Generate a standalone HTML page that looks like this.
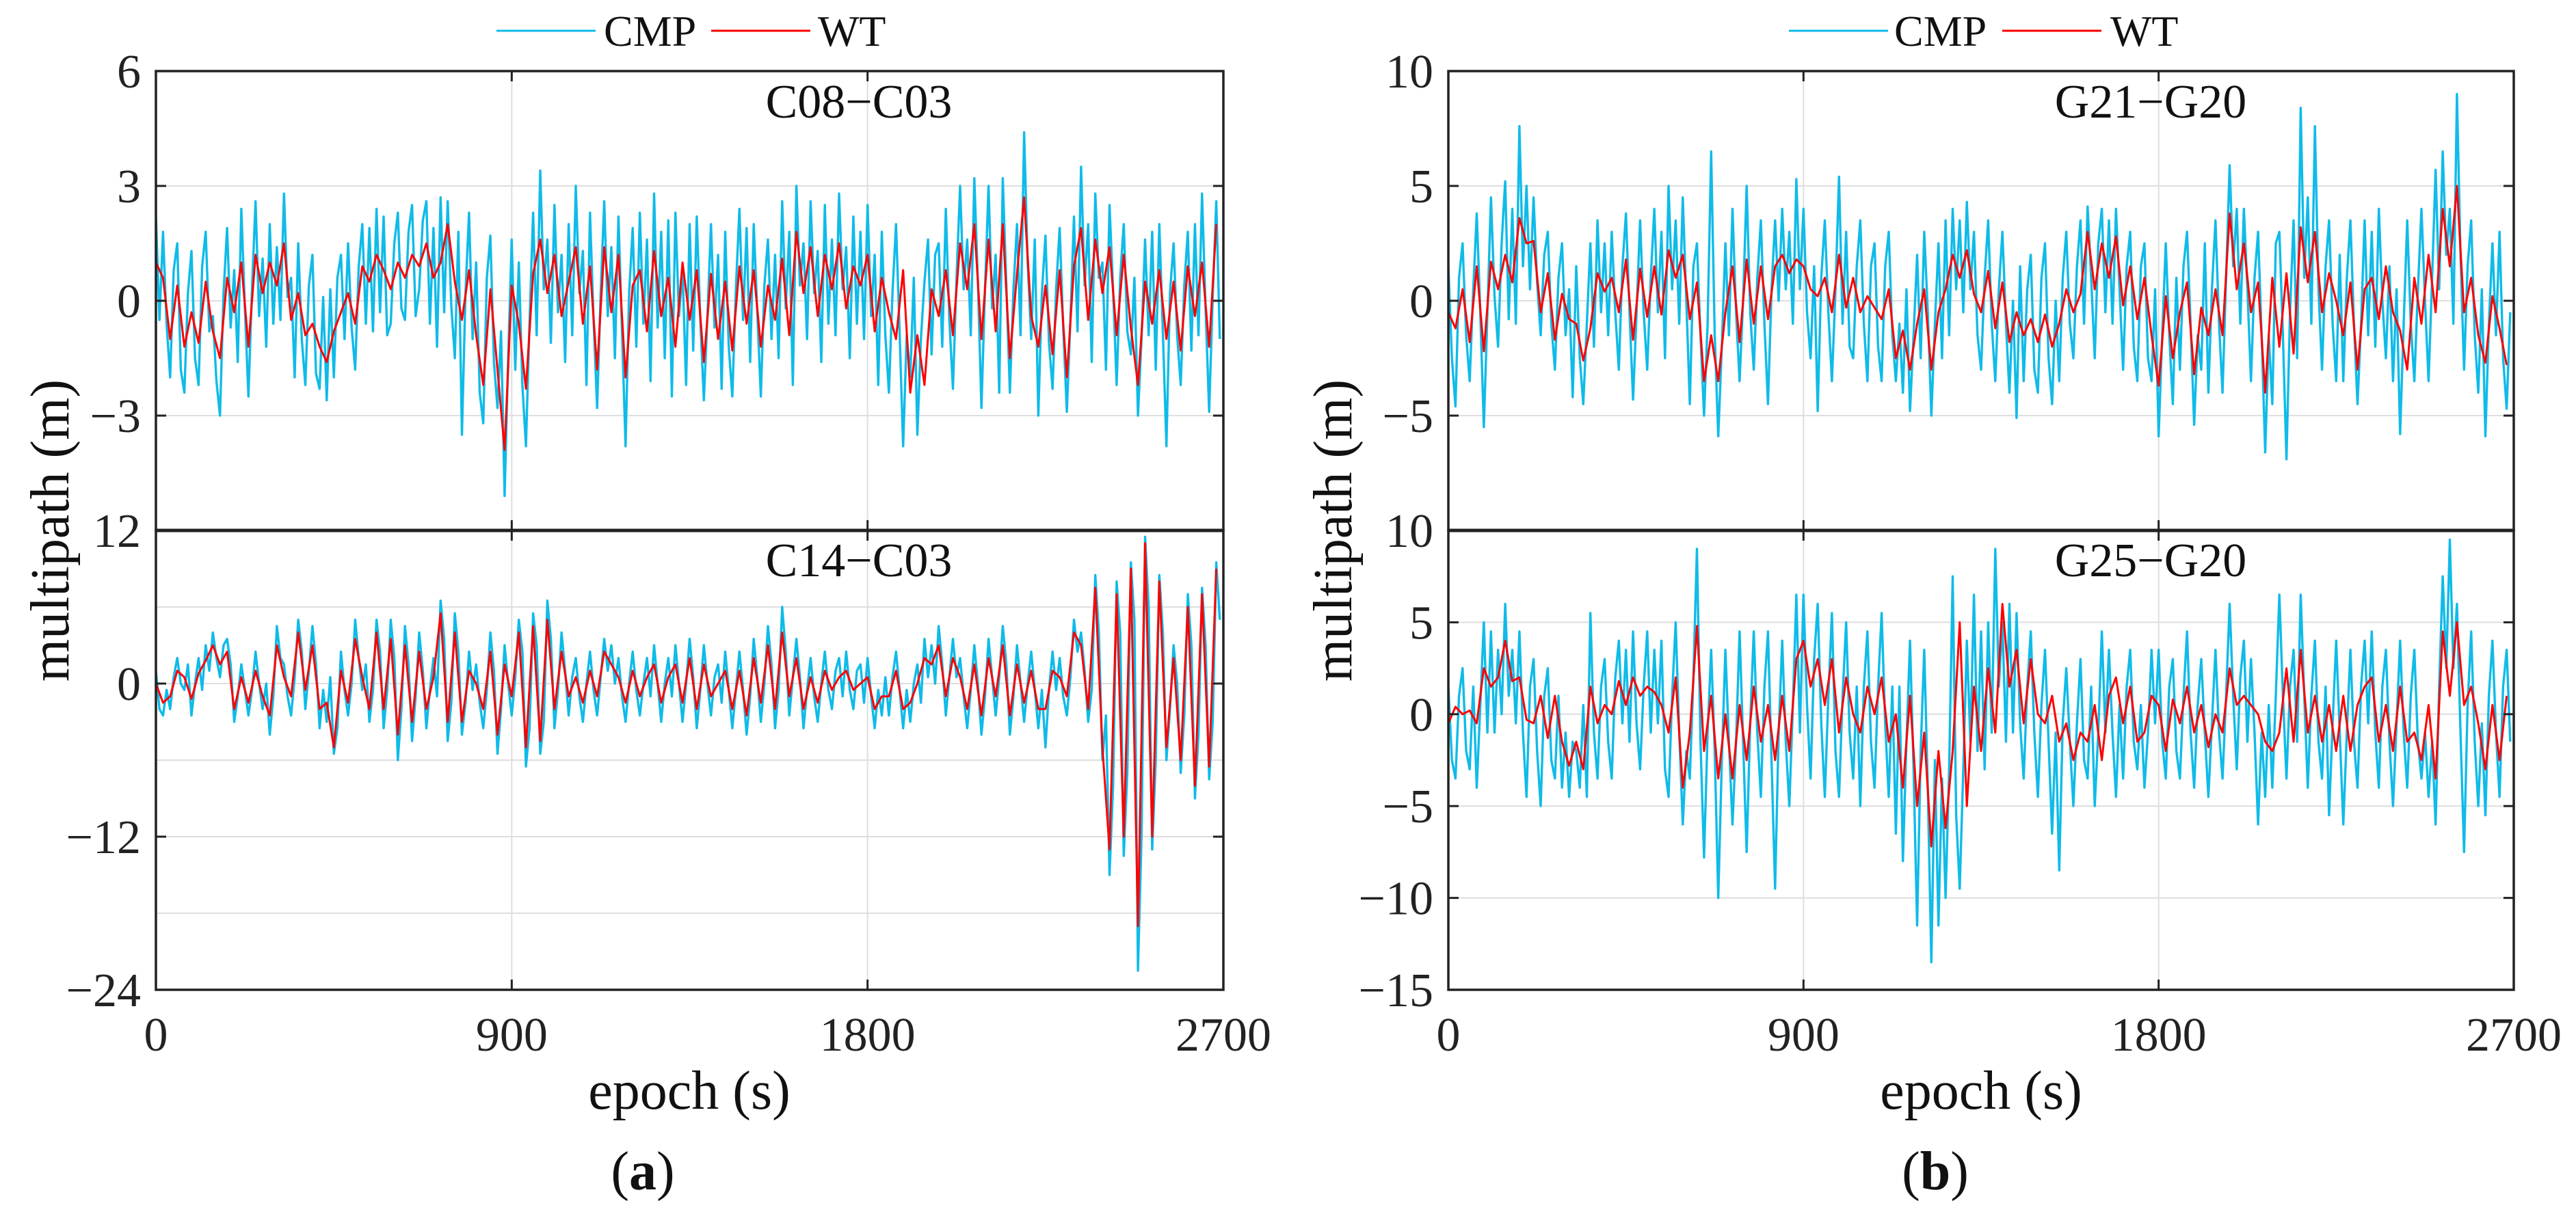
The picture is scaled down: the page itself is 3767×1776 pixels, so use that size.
<!DOCTYPE html>
<html><head><meta charset="utf-8"><style>
html,body{margin:0;padding:0;background:#fff;}
svg{display:block;}
svg text{font-family:"Liberation Serif","Times New Roman",serif;}
</style></head><body>
<svg id="fig" xmlns="http://www.w3.org/2000/svg" width="3767" height="1776" viewBox="0 0 3767 1776" font-family="Liberation Serif, Times New Roman, serif"></svg>
<script>
// ---- data ----
const xTicks = [0, 900, 1800, 2700];
const xTickLabels = ["0", "900", "1800", "2700"];
const cmpStep = 9;
const wtStep = 18;

const c08Wt = [1.0,0.6,-1.0,0.4,-1.2,-0.3,-1.1,0.5,-0.8,-1.5,
0.6,-0.3,1.0,-1.2,1.2,0.2,1.0,0.4,1.5,-0.5,
0.2,-0.9,-0.6,-1.2,-1.6,-0.8,-0.3,0.2,-0.6,0.9,
0.5,1.2,0.8,0.3,1.0,0.6,1.2,0.9,1.5,0.6,
1.0,2.0,0.5,-0.5,0.8,-0.9,-2.2,0.3,-1.8,-3.9,
0.4,-0.6,-2.3,0.7,1.6,0.2,1.2,-0.4,0.5,1.4,
-0.6,0.9,-1.8,1.4,-0.3,1.2,-2.0,0.4,0.8,-0.8,
1.3,-0.4,0.6,-1.2,1.0,-0.5,0.8,-1.6,0.7,-1.0,
0.5,-1.3,0.9,-0.6,0.8,-1.2,0.4,-0.5,1.1,-0.9,
1.8,0.2,1.4,-0.4,1.2,0.3,1.5,-0.2,0.9,0.4,
1.2,-0.8,0.6,-0.3,-1.0,0.8,-2.4,-0.9,-2.2,0.3,
-0.4,0.8,-0.9,1.5,0.3,2.0,-1.0,1.6,-0.8,2.0,
-1.5,0.7,2.7,-0.4,-1.2,0.4,-1.4,0.8,-2.0,0.9,
1.9,-0.5,1.6,0.2,1.4,-0.9,1.2,-0.7,-2.2,0.5,
-0.6,0.8,-1.0,0.5,-1.3,0.9,-0.4,1.0,-1.2,2.0];
const c08Cmp = [2.2,-0.5,1.8,-0.6,-2.0,0.8,1.5,-1.8,-2.4,0.2,1.3,-1.5,-2.2,0.9,1.8,-0.8,-0.4,-2.1,-3.0,0.2,
1.9,-0.7,0.8,-1.6,2.4,-0.2,-2.5,0.3,2.6,-0.4,1.1,-1.2,2.0,-0.6,1.4,-0.5,2.8,0.1,0.6,-2.0,
1.5,-1.0,-2.2,0.4,1.2,-1.9,-2.3,0.1,-2.6,0.3,-2.0,0.6,1.2,-1.0,1.5,-0.7,-1.8,0.9,2.0,-0.6,
1.9,-0.8,2.4,-0.3,2.2,-0.9,-0.6,1.5,2.3,-0.2,-0.5,1.8,2.5,-0.4,0.3,2.1,2.6,-0.6,1.9,-1.2,
2.7,-0.3,2.6,-0.1,-1.5,1.8,-3.5,0.2,2.3,-1.0,1.0,-2.4,-3.2,0.6,1.7,-1.6,-2.8,-0.8,-5.1,-1.5,
1.6,-1.8,1.0,-2.2,-3.8,-0.6,2.3,-0.9,3.4,0.3,1.6,-1.1,2.5,-0.3,1.2,-1.6,2.0,-0.9,3.0,0.2,
1.3,-2.2,2.3,-0.5,-2.8,0.2,2.6,-0.4,1.4,-1.5,2.2,-0.8,-3.8,0.2,1.9,-1.2,2.3,-0.6,1.6,-2.1,
2.8,-0.7,1.8,-1.5,2.1,-2.5,2.3,-0.4,0.8,-2.2,2.0,-1.3,2.2,-0.5,-2.6,-0.4,2.0,-0.7,1.2,-2.3,
1.8,-1.2,-2.5,0.3,2.4,-0.5,1.9,-1.6,2.0,-0.3,-2.5,0.4,1.6,-1.0,1.2,-1.5,2.6,-0.2,1.8,-2.2,
3.0,0.4,1.5,-1.0,2.6,0.2,1.3,-1.6,2.5,-0.6,1.6,-0.9,2.8,0.3,1.4,-1.5,2.2,-0.6,1.8,-1.0,
2.5,-0.4,1.2,-2.2,1.8,-0.9,-2.4,0.2,2.0,-0.8,-3.8,-0.9,-2.0,0.6,-3.5,-1.0,0.5,1.6,-1.4,1.2,
1.5,-1.2,2.4,-0.5,-2.3,0.6,3.0,0.3,1.6,-0.9,3.2,0.5,-2.8,0.3,3.0,-0.2,1.2,-2.4,3.2,0.4,
-2.4,0.3,2.0,-0.9,4.4,1.0,-1.0,1.6,-3.0,0.2,1.7,-1.1,-2.3,0.3,1.9,-0.7,-2.9,-0.5,2.2,-0.8,
3.5,0.4,2.0,-1.6,2.8,0.6,1.0,-1.8,2.5,0.3,-2.2,0.6,2.0,-0.8,-1.4,0.6,-3.0,-1.0,1.6,-0.9,
1.8,-1.8,2.0,-0.8,-3.8,0.2,1.5,-0.9,-2.2,0.4,1.8,-1.3,2.0,-0.9,2.8,-0.2,-2.9,0.1,2.6,-1.0];

const c14Wt = [0,-1.5,-1.0,1.0,0.5,-1.2,0.8,1.8,3.0,1.5,
2.5,-2.0,0.5,-1.5,1.0,-1.0,-2.5,3.0,0.5,-1.0,
4.0,-0.5,3.0,-2.0,-1.5,-5.0,1.0,-1.5,3.5,0.5,
-2.0,4.0,-2.0,3.5,-4.0,3.0,-3.0,2.5,-2.0,0.5,
5.5,-3.0,4.0,-3.0,1.0,0.0,-2.0,2.5,-4.0,1.5,
-1.0,4.0,-5.0,4.5,-4.5,5.0,-2.0,2.5,-1.0,0.5,
-1.5,1.0,-1.0,2.5,1.5,0.5,-1.5,1.0,-1.0,0.5,
1.5,-1.5,0.5,1.5,-1.5,2.0,-2.0,1.5,-1.0,0.0,
1.0,-2.0,1.0,-2.5,2.0,-1.5,3.0,-2.0,4.0,-1.0,
2.0,-2.0,0.5,-1.5,1.0,-0.5,0.5,1.0,-0.5,0.0,
0.5,-2.0,-1.0,-1.0,1.0,-2.0,-1.5,0.0,2.0,1.5,
3.0,-1.0,2.0,0.5,-2.0,1.5,-2.5,2.0,-1.0,3.0,
-2.5,1.5,-1.5,1.0,-2.0,-2.0,1.0,0.5,-1.0,4.0,
3.0,-2.0,7.5,-5.0,-13.0,7.0,-12.0,9.0,-19.0,11.0,
-12.0,8.0,-5.0,2.0,-6.0,6.0,-8.0,7.0,-6.5,9.0];
const c14Cmp = [1.0,-2.0,-2.5,-0.5,-2.0,0.5,2.0,0.0,-0.5,1.5,-2.5,0.0,2.0,-0.5,3.0,1.0,4.0,2.0,0.5,3.0,
3.5,1.5,-3.0,-1.0,1.5,-0.5,-2.5,-0.5,2.5,0.0,-2.0,0.0,-4.0,-1.0,4.5,2.0,1.5,-1.0,-2.5,0.5,
5.0,2.5,-2.0,1.0,4.5,1.5,-3.5,-0.5,-3.0,0.5,-5.5,-3.5,2.5,-0.5,-2.5,0.0,5.0,2.0,-0.5,1.5,
-3.0,-0.5,5.0,2.5,-3.5,-0.5,5.0,2.0,-6.0,-2.0,4.5,1.5,-4.5,-1.0,4.0,1.0,-3.5,-0.5,2.0,-1.0,
6.5,3.5,-4.5,-1.5,5.5,2.5,-4.0,-1.5,2.5,-0.5,1.5,-1.5,-3.5,-0.5,4.0,1.0,-5.5,-2.0,3.0,0.0,
-2.5,0.5,5.0,2.5,-6.5,-3.5,5.5,3.0,-5.5,-3.0,6.5,3.5,-3.5,-0.5,4.0,1.0,-2.5,0.5,2.0,-1.0,
-3.0,0.0,2.5,-0.5,-2.5,0.5,3.5,1.0,3.0,0.0,2.0,-1.0,-3.0,0.0,2.5,-0.5,-2.5,0.0,2.0,-1.0,
3.0,0.0,-3.0,0.0,2.0,-1.0,3.0,0.0,-3.0,0.0,3.5,0.5,-3.5,-0.5,3.0,0.0,-2.5,0.5,1.5,-1.5,
2.5,-0.5,-3.5,-0.5,2.5,-0.5,-4.0,-1.0,3.5,0.5,-3.0,0.0,4.5,1.5,-3.5,-0.5,6.0,2.5,-2.5,0.5,
3.5,0.5,-3.5,-0.5,2.0,-1.0,-3.0,0.0,2.5,-0.5,-2.0,1.0,2.0,-1.0,2.5,-0.5,-2.0,1.0,1.5,-1.5,
2.0,-1.0,-3.5,-0.5,-2.5,0.5,-2.5,0.5,2.5,-0.5,-3.5,-0.5,-3.0,0.0,1.5,-1.5,3.5,0.5,3.0,0.0,
4.5,1.5,-2.5,0.5,3.5,0.5,2.0,-1.0,-3.5,-0.5,3.0,0.0,-4.0,-1.0,3.5,0.5,-2.5,0.5,4.5,1.5,
-4.0,-1.0,3.0,0.0,-3.0,0.0,2.5,-0.5,-3.5,-0.5,-5.0,-0.5,2.5,-0.5,2.0,-1.0,-2.5,0.5,5.0,2.5,
4.0,1.0,-3.0,-0.5,8.5,4.0,-6.0,-2.5,-15.0,-8.0,8.0,4.0,-13.5,-7.0,9.5,5.0,-22.5,-12.0,11.5,6.0,
-13.0,-6.0,8.5,4.0,-6.0,-2.0,3.0,0.0,-7.0,-2.5,7.0,3.0,-9.0,-4.0,7.5,3.0,-7.5,-3.0,9.5,5.0];

const g21Wt = [-0.5,-1.2,0.5,-1.8,1.5,-2.2,1.7,0.5,2.0,0.8,
3.6,2.5,2.6,-0.5,1.2,-1.7,0.3,-0.8,-1.0,-2.6,
-1.2,1.2,0.4,1.0,-0.5,1.8,-1.7,1.4,-0.7,1.5,
-0.6,2.2,1.0,2.0,-0.8,0.8,-3.5,-1.5,-3.5,-0.5,
1.5,-1.8,1.8,-1.0,1.5,-0.8,1.5,2.0,1.2,1.8,
1.5,0.5,0.2,1.0,-0.5,2.0,-0.3,1.0,-0.5,0.2,
-0.3,-0.8,0.5,-2.5,-1.3,-3.0,-1.0,0.5,-3.0,-0.5,
0.5,2.0,1.0,2.2,0.3,-0.5,1.3,-1.2,0.8,-1.8,
-0.5,-1.5,-0.8,-1.8,-0.6,-2.0,-1.0,0.5,-0.5,0.3,
3.0,0.5,2.5,1.0,2.8,-0.2,1.5,-0.8,1.0,-1.5,
-3.7,0.2,-2.5,-0.5,0.8,-3.2,-0.3,-1.5,0.5,-1.5,
3.8,0.5,2.5,-0.5,0.8,-4.0,1.0,-2.0,1.2,-2.3,
3.2,0.8,3.0,-0.5,1.2,0.0,-1.5,0.8,-3.0,0.5,
1.0,-0.8,1.5,-0.5,-1.3,-3.0,1.0,-1.0,2.0,-0.5,
4.0,1.5,5.0,-0.5,1.0,-1.5,-2.7,0.2,-1.2,-2.8];
const g21Cmp = [1.5,-2.5,-4.6,1.0,2.5,-1.5,-3.5,0.5,3.8,-0.5,-5.5,-0.5,4.5,0.2,-2.0,2.5,5.2,-0.8,4.0,-1.0,
7.6,1.5,5.0,0.5,4.5,0.8,-1.5,2.0,3.0,-1.0,-3.0,1.0,2.5,-1.5,0.5,-4.2,1.5,-2.5,-4.5,-1.0,
2.5,-2.0,3.5,-0.5,2.5,-1.5,3.0,-0.5,-3.0,1.5,3.8,-0.5,-4.3,-0.5,3.5,-0.5,-3.0,1.0,4.0,-0.5,
3.0,-2.5,5.0,0.5,3.5,-1.0,4.5,0.0,-4.5,1.5,2.5,-1.5,-5.0,-1.0,6.5,-1.5,-5.9,-2.0,2.5,-1.5,
4.0,-0.5,-3.5,0.0,5.0,-0.5,-3.0,1.0,3.5,-1.0,-4.5,0.5,3.5,0.0,4.0,0.5,3.0,-1.0,5.3,0.5,
4.0,-0.5,-2.5,1.5,-4.8,1.0,3.5,-0.5,-3.5,0.5,5.4,-1.0,3.0,-2.0,-2.5,1.5,3.5,-1.0,-3.5,1.5,
2.5,-2.0,-3.5,1.5,3.0,-1.5,-3.5,-1.0,-4.0,0.5,-4.8,-1.5,2.0,-2.5,3.0,-0.5,-5.0,-1.0,2.5,-2.5,
3.5,-1.5,4.0,0.5,3.5,-0.5,4.3,0.5,3.0,-1.5,-3.0,1.0,3.5,-1.0,-3.5,0.5,3.0,-1.0,-4.0,0.0,
-5.1,1.5,-3.5,0.5,2.0,-3.0,-4.0,1.0,2.5,-2.5,-4.5,0.0,-3.5,1.0,3.0,-1.0,-2.5,1.5,3.5,-1.0,
4.1,1.0,-2.5,2.5,4.0,-0.5,3.5,-1.0,4.0,0.5,-3.0,1.5,3.0,-2.0,-3.5,1.5,2.5,-2.5,-3.5,0.5,
-5.9,-1.5,2.5,-1.5,-4.5,1.0,-3.0,1.5,3.0,-1.0,-5.4,-1.5,-3.0,2.5,-4.0,0.5,3.5,-1.0,-4.0,1.0,
5.9,1.5,4.0,-1.0,4.0,0.5,-3.5,1.0,3.0,-1.5,-6.6,-1.5,-4.5,2.5,3.0,-1.5,-6.9,-0.5,3.5,-2.5,
8.4,1.0,4.5,-1.0,7.6,0.5,-3.0,1.5,3.5,-1.0,-3.5,2.0,-3.5,1.0,3.5,-1.0,-4.5,-1.0,3.5,-1.5,
3.0,-2.0,4.0,0.0,-2.5,1.5,-3.5,0.5,-5.8,-1.0,3.5,-1.0,-3.5,0.5,4.0,0.0,-3.5,1.0,5.7,0.5,
6.5,2.0,4.0,-1.0,9.0,2.0,-3.0,1.5,3.5,-1.5,-4.0,0.5,-5.9,-1.0,2.5,-1.5,3.0,-2.5,-4.7,-0.5];

const g25Wt = [-0.5,0.4,0.0,0.2,-0.5,2.5,1.5,2.0,4.0,1.8,
2.0,-0.3,-0.5,1.0,-1.3,1.0,-1.5,-2.8,-1.5,-3.0,
1.5,-0.5,0.5,0.0,1.8,0.5,2.0,1.0,1.5,1.2,
0.5,-1.0,2.0,-4.0,-1.0,4.8,-2.0,1.0,-3.5,0.0,
-3.5,0.5,-2.5,1.5,-1.5,0.5,-2.5,1.0,-2.0,3.0,
4.0,1.5,3.0,0.5,3.0,-1.0,2.0,0.0,-1.0,1.5,
0.0,2.0,-1.5,0.0,-4.0,1.0,-5.0,-1.0,-7.2,-2.0,
-6.2,-2.0,5.0,-5.0,1.5,-2.0,2.5,-1.0,6.0,1.5,
3.5,-0.5,3.0,0.0,-0.5,1.0,-1.5,-0.5,-2.5,-1.0,
-1.5,0.5,-2.5,1.0,2.0,-0.5,1.5,-1.5,-1.0,1.0,
0.5,-2.0,0.8,-0.5,1.5,-1.0,0.5,-1.8,0.0,-1.0,
2.5,0.5,1.0,0.5,0.0,-1.5,-2.0,-1.0,2.5,-1.5,
3.5,-1.0,1.0,-1.5,0.5,-2.0,1.0,-2.0,0.5,1.5,
2.0,-1.5,0.5,-2.0,1.5,-1.5,-1.0,-2.5,0.5,-3.5,
4.5,1.0,5.0,0.5,1.5,-0.5,-3.0,0.5,-2.5,1.0];
const g25Cmp = [1.5,-2.5,-3.5,1.0,2.5,-2.0,-3.0,1.5,-4.0,0.5,5.0,-1.0,4.5,-1.0,3.5,0.0,6.0,1.0,3.5,-0.5,
4.5,-1.0,-4.5,1.5,3.0,-2.0,-5.0,1.0,2.5,-2.5,-3.5,1.0,-4.0,-1.0,-4.5,-1.5,-2.0,-4.0,0.5,-4.5,
5.5,-1.0,-3.5,1.5,3.0,-1.5,-3.5,2.0,4.0,-0.5,3.5,-1.5,4.5,-0.5,-3.0,1.5,4.5,-1.0,3.5,-0.5,
4.0,-3.0,-4.5,1.0,5.0,-1.0,-6.0,-2.0,-3.5,2.0,9.0,-1.5,-7.8,-1.0,3.5,-2.0,-10.0,-2.5,3.5,-1.5,
-6.0,-1.5,4.5,-1.5,-7.5,-0.5,4.5,-1.0,-4.5,1.5,4.5,-2.5,-9.5,-1.0,4.0,-1.5,-5.0,0.5,6.5,-1.0,
6.5,0.5,-3.5,3.0,6.0,-0.5,-4.5,1.0,5.5,-2.0,-4.5,1.0,5.0,-1.0,-3.5,1.5,-5.0,1.5,4.5,-1.5,
-4.0,1.5,5.5,-0.5,-4.5,1.5,-6.5,1.5,-8.0,-1.5,4.0,-3.0,-11.5,-2.0,3.5,-4.0,-13.5,-2.5,-11.5,-3.5,
-10.0,-3.0,7.5,-5.5,-9.5,-3.0,4.0,-1.5,6.5,-2.0,4.5,-3.0,5.0,-1.0,9.0,1.5,5.0,-1.5,6.0,-1.0,
5.5,-0.5,-3.5,1.5,4.5,-1.0,-4.5,0.5,3.5,-1.5,-6.5,-1.0,-8.5,-0.5,2.5,-1.5,-5.0,-0.5,3.0,-2.5,
-3.5,1.5,-5.0,-1.0,4.5,-1.0,3.5,-1.0,-4.5,0.5,-3.5,1.5,3.5,-1.5,-3.0,0.5,-4.0,-1.0,3.5,-0.5,
3.5,-1.5,-3.5,1.5,3.0,-2.0,-3.5,1.0,4.5,-1.0,-4.0,0.5,3.0,-1.0,-4.5,-0.5,3.5,-1.0,-3.5,1.0,
6.0,1.0,-3.0,2.0,4.0,-1.5,3.0,-1.0,-6.0,-1.0,-4.5,0.5,-4.0,1.0,6.5,1.0,-3.5,1.5,3.5,-1.5,
6.5,1.0,-4.0,1.0,4.0,-1.5,-3.5,1.5,-5.5,-0.5,4.0,-1.0,-6.0,-1.0,3.5,-1.5,-4.0,1.5,4.0,-0.5,
4.5,-1.0,-4.0,1.5,3.5,-1.5,-5.0,-0.5,4.0,-1.0,-4.0,1.0,3.5,-1.5,-3.5,-1.0,-4.5,-1.5,-6.0,1.5,
7.5,2.5,9.5,2.5,6.0,-1.0,-7.5,0.5,4.5,-1.5,-5.0,-0.5,-5.5,1.0,4.0,-1.0,-4.5,1.5,3.5,-1.5];

const yTicksC08 = [-3, 0, 3, 6];
const yTickLabelsC08 = ["\u22123", "0", "3", "6"];
const yGridC08 = [-3, 0, 3];
const yTicksC14 = [-24, -12, 0, 12];
const yTickLabelsC14 = ["\u221224", "\u221212", "0", "12"];
const yGridC14 = [-18, -12, -6, 0, 6];
const yTicksG21 = [-5, 0, 5, 10];
const yTickLabelsG21 = ["\u22125", "0", "5", "10"];
const yGridG21 = [-5, 0, 5];
const yTicksG25 = [-15, -10, -5, 0, 5, 10];
const yTickLabelsG25 = ["\u221215", "\u221210", "\u22125", "0", "5", "10"];
const yGridG25 = [-10, -5, 0, 5];

const NS = "http://www.w3.org/2000/svg";
const FONT = "Liberation Serif, Times New Roman, serif";
const svg = document.getElementById("fig");
function mk(tag, attrs, parent, text) {
  const e = document.createElementNS(NS, tag);
  for (const k in attrs) e.setAttribute(k, attrs[k]);
  if (tag === "text") e.setAttribute("font-family", FONT);
  if (text !== undefined) e.textContent = text;
  (parent || svg).appendChild(e);
  return e;
}
const CMP_COLOR = "#0fbbe8", WT_COLOR = "#ff0000";

function drawPanel(p) {
  const g = mk("g", {});
  
  
  const xs = t => p.x0 + (t / 2700) * (p.x1 - p.x0);
  const ys = v => p.y1 - (v - p.ymin) / (p.ymax - p.ymin) * (p.y1 - p.y0);
  p.grid.forEach(v => {
    const l = mk("line", {x1: p.x0, x2: p.x1, y1: ys(v), y2: ys(v), stroke: "#dedede", "stroke-width": 2}, g);
    
    
  });
  [900, 1800].forEach(t => {
    const l = mk("line", {x1: xs(t), x2: xs(t), y1: p.y0, y2: p.y1, stroke: "#dedede", "stroke-width": 2}, g);
    
    
  });
  const clip = "clip-" + p.name;
  const cp = mk("clipPath", {id: clip}, g);
  mk("rect", {x: p.x0, y: p.y0, width: p.x1 - p.x0, height: p.y1 - p.y0}, cp);
  const cmpPts = p.cmp.map((v, i) => xs(i * cmpStep).toFixed(1) + "," + ys(v).toFixed(1)).join(" ");
  const c = mk("polyline", {points: cmpPts, fill: "none", stroke: CMP_COLOR, "stroke-width": 3.4, "stroke-linejoin": "round", "clip-path": "url(#" + clip + ")"}, g);
  
  
  const wtPts = p.wt.map((v, i) => xs(i * wtStep).toFixed(1) + "," + ys(v).toFixed(1)).join(" ");
  const w = mk("polyline", {points: wtPts, fill: "none", stroke: WT_COLOR, "stroke-width": 3, "stroke-linejoin": "round", "clip-path": "url(#" + clip + ")"}, g);
  
  
  p.ticks.forEach((v, i) => {
    const y = ys(v);
    mk("line", {x1: p.x0, x2: p.x0 + 15, y1: y, y2: y, stroke: "#222", "stroke-width": 3}, g);
    mk("line", {x1: p.x1, x2: p.x1 - 15, y1: y, y2: y, stroke: "#222", "stroke-width": 3}, g);
    const t = mk("text", {x: p.x0 - 22, y: y + 24, "text-anchor": "end", "font-size": 70, fill: "#222"}, g, p.tickLabels[i]);
    
    
  });
  [900, 1800].forEach(t => {
    mk("line", {x1: xs(t), x2: xs(t), y1: p.y0, y2: p.y0 + 15, stroke: "#222", "stroke-width": 3}, g);
    mk("line", {x1: xs(t), x2: xs(t), y1: p.y1, y2: p.y1 - 15, stroke: "#222", "stroke-width": 3}, g);
  });
  if (p.xlabels) {
    xTicks.forEach((t, i) => {
      const e = mk("text", {x: xs(t), y: 1537, "text-anchor": "middle", "font-size": 70, fill: "#222"}, g, xTickLabels[i]);
      
      
    });
  }
  const f = mk("rect", {x: p.x0, y: p.y0, width: p.x1 - p.x0, height: p.y1 - p.y0, fill: "none", stroke: "#222", "stroke-width": 3.5}, g);
  
  
  const a = mk("text", {x: p.annX, y: p.annY, "text-anchor": "middle", "font-size": 70, fill: "#111"}, g, p.title);
  
  
}

const L = {x0: 228, x1: 1789}, R = {x0: 2118, x1: 3676};
drawPanel({name: "c08-c03-axes", x0: L.x0, x1: L.x1, y0: 104, y1: 776, ymin: -6, ymax: 6, grid: yGridC08, ticks: yTicksC08.filter(v => v !== 6).concat([6]), tickLabels: yTickLabelsC08, cmp: c08Cmp, wt: c08Wt, title: "C08\u2212C03", annX: 1256, annY: 172});
drawPanel({name: "c14-c03-axes", x0: L.x0, x1: L.x1, y0: 776, y1: 1448, ymin: -24, ymax: 12, grid: yGridC14, ticks: yTicksC14, tickLabels: yTickLabelsC14, cmp: c14Cmp, wt: c14Wt, title: "C14\u2212C03", annX: 1256, annY: 843, xlabels: true});
drawPanel({name: "g21-g20-axes", x0: R.x0, x1: R.x1, y0: 104, y1: 776, ymin: -10, ymax: 10, grid: yGridG21, ticks: yTicksG21, tickLabels: yTickLabelsG21, cmp: g21Cmp, wt: g21Wt, title: "G21\u2212G20", annX: 3145, annY: 172});
drawPanel({name: "g25-g20-axes", x0: R.x0, x1: R.x1, y0: 776, y1: 1448, ymin: -15, ymax: 10, grid: yGridG25, ticks: yTicksG25, tickLabels: yTickLabelsG25, cmp: g25Cmp, wt: g25Wt, title: "G25\u2212G20", annX: 3145, annY: 843, xlabels: true});

mk("line", {x1: L.x0, x2: L.x1, y1: 776, y2: 776, stroke: "#222", "stroke-width": 5});
mk("line", {x1: R.x0, x2: R.x1, y1: 776, y2: 776, stroke: "#222", "stroke-width": 5});

function legend(bx, tx, rx, wx) {
  const g = mk("g", {});
  
  
  mk("line", {x1: bx, x2: bx + 145, y1: 45, y2: 45, stroke: CMP_COLOR, "stroke-width": 3}, g);
  const t1 = mk("text", {x: tx, y: 67, "font-size": 64, fill: "#111"}, g, "CMP");
  
  
  mk("line", {x1: rx, x2: rx + 145, y1: 45, y2: 45, stroke: WT_COLOR, "stroke-width": 3}, g);
  const t2 = mk("text", {x: wx, y: 67, "font-size": 64, fill: "#111"}, g, "WT");
  
  
}
legend(726, 883, 1040, 1196);
legend(2616, 2770, 2928, 3086);

function label(txt, x, y, size, rot, name) {
  const attrs = {x: x, y: y, "text-anchor": "middle", "font-size": size, fill: "#111"};
  if (rot) attrs.transform = "rotate(-90 " + x + " " + y + ")";
  const e = mk("text", attrs, svg, txt);
  
  
  return e;
}
label("multipath (m)", 100, 776, 80, true, "y-axis-title-a");
label("multipath (m)", 1976, 776, 80, true, "y-axis-title-b");
label("epoch (s)", 1008, 1622, 80, false, "x-axis-title-a");
label("epoch (s)", 2897, 1622, 80, false, "x-axis-title-b");
const pa = label("", 940, 1740, 80, false, "panel-label-a");
pa.innerHTML = '(<tspan font-weight="bold">a</tspan>)';
const pb = label("", 2830, 1740, 80, false, "panel-label-b");
pb.innerHTML = '(<tspan font-weight="bold">b</tspan>)';
</script>
</body></html>
